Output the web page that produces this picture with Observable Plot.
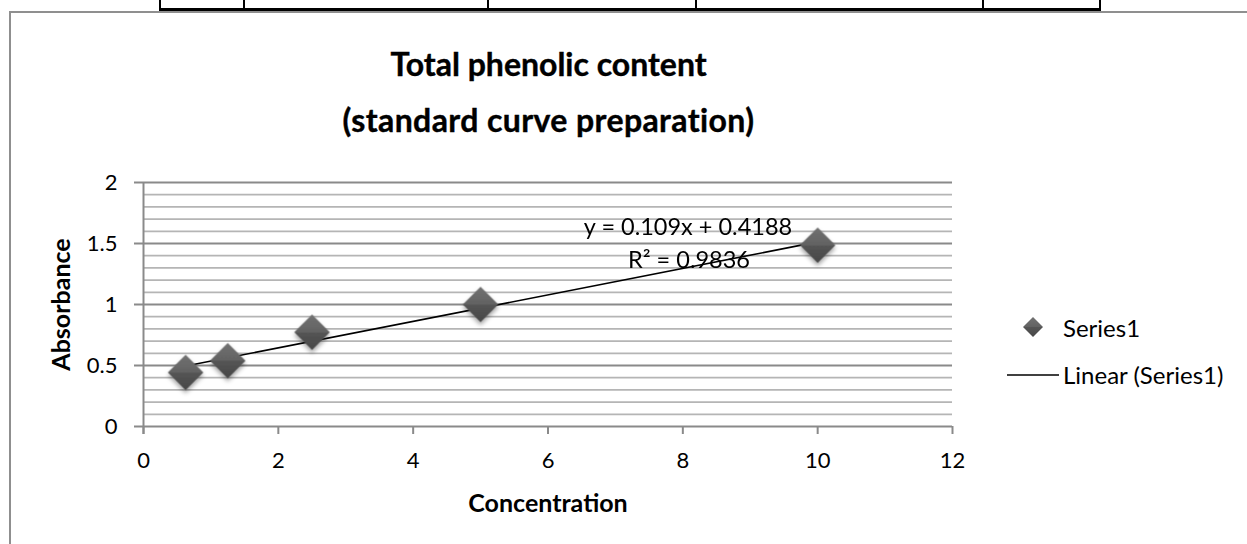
<!DOCTYPE html>
<html><head><meta charset="utf-8">
<script src="https://cdn.jsdelivr.net/npm/d3@7"></script>
<script src="https://cdn.jsdelivr.net/npm/@observablehq/plot@0.6"></script>
<style>
body{margin:0;background:#fff;font-family:Lato,"Open Sans",sans-serif;}
#wrap{position:relative;width:1247px;height:544px;overflow:hidden;background:#fff}
.frame{position:absolute;left:9px;top:11px;width:1300px;height:600px;border-left:2px solid #8f8f8f;border-top:2px solid #8f8f8f;box-sizing:border-box}
.tbl{position:absolute;left:159px;top:0;width:942px;height:8px;border-bottom:3px solid #000}
.vl{position:absolute;top:0;width:2px;height:10px;background:#000}
.title{position:absolute;left:0;width:1097px;text-align:center;font-weight:bold;font-size:32px;line-height:38px;color:#000;white-space:nowrap;-webkit-text-stroke:0.4px #000}
.leg{position:absolute;font-size:24px;line-height:28px;color:#000;white-space:nowrap}
#chart{position:absolute;left:0;top:0}
</style></head><body>
<div id="wrap">
  <div class="tbl"></div>
  <div class="vl" style="left:159px"></div>
  <div class="vl" style="left:243px"></div>
  <div class="vl" style="left:487px"></div>
  <div class="vl" style="left:695px"></div>
  <div class="vl" style="left:982px"></div>
  <div class="vl" style="left:1099px"></div>
  <div class="frame"></div>
  <div id="chart"></div>
  <div id="t1" class="title" style="top:45px"></div>
  <div id="t2" class="title" style="top:101px;letter-spacing:0.4px"></div>
  <div class="leg" style="left:1022px;top:314px"><svg width="24" height="28" style="vertical-align:top"><path d="M11,3 L21,13 L11,23 L1,13 Z" fill="url(#legFill)"/><defs><linearGradient id="legFill" x1="0" y1="0" x2="0" y2="1"><stop offset="0" stop-color="#727272"/><stop offset="0.5" stop-color="#626262"/><stop offset="0.5" stop-color="#555"/><stop offset="1" stop-color="#474747"/></linearGradient></defs></svg><span id="l1" style="position:absolute;left:41px;top:0"></span></div>
  <div class="leg" style="left:1007px;top:361px"><svg width="52" height="28" style="vertical-align:top"><line x1="0" y1="14" x2="52" y2="14" stroke="#000" stroke-width="1.5"/></svg><span id="l2" style="position:absolute;left:56px;top:0"></span></div>
</div>
<script>
// ---- data ----
const titleLines = ["Total phenolic content", "(standard curve preparation)"];
const concentration = [0.625, 1.25, 2.5, 5, 10];
const absorbance = [0.443, 0.539, 0.773, 1.0, 1.486];
const xTicks = [0, 2, 4, 6, 8, 10, 12];
const yTicks = [0, 0.5, 1, 1.5, 2];
const yMinorTicks = [0.1, 0.2, 0.3, 0.4, 0.6, 0.7, 0.8, 0.9, 1.1, 1.2, 1.3, 1.4, 1.6, 1.7, 1.8, 1.9];
const equationLines = ["y = 0.109x + 0.4188", "R² = 0.9836"];
const xLabel = "Concentration";
const yLabel = "Absorbance";
const seriesName = "Series1";
const trendName = "Linear (Series1)";

document.getElementById("t1").textContent = titleLines[0];
document.getElementById("t2").textContent = titleLines[1];
document.getElementById("l1").textContent = seriesName;
document.getElementById("l2").textContent = trendName;

const data = concentration.map((x, i) => ({x, y: absorbance[i]}));

const chart = Plot.plot({
  width: 1247, height: 544,
  marginLeft: 143, marginRight: 295, marginTop: 182, marginBottom: 118,
  x: {domain: [0, 12], ticks: xTicks},
  y: {domain: [0, 2], ticks: yTicks},
  style: {fontFamily: "Lato, 'Open Sans', sans-serif", fontSize: "22px", color: "#000", background: "transparent", overflow: "visible"},
  marks: [
    Plot.ruleY(yMinorTicks, {stroke: "#b5b5b5", strokeWidth: 1.8}),
    Plot.ruleY(yTicks, {stroke: "#8a8a8a", strokeWidth: 2, insetLeft: -9}),
    Plot.ruleX([0], {stroke: "#8a8a8a", strokeWidth: 2, insetBottom: -8}),
    Plot.axisX({ticks: xTicks, tickSize: 8, tickPadding: 18, stroke: "#8a8a8a", strokeWidth: 2, label: null, fontSize: 22, tickFormat: d => `${d}`}),
    Plot.axisY({ticks: yTicks, tickSize: 0, tickPadding: 26, label: null, fontSize: 22, tickFormat: d => `${d}`}),
    Plot.linearRegressionY(data, {x: "x", y: "y", ci: 0, stroke: "#000", strokeWidth: 1.6}),
    Plot.dot(data, {x: "x", y: "y", symbol: "diamond2", r: 16, fill: "url(#diamondFill)", stroke: "none"}),
    Plot.text([equationLines[0]], {frameAnchor: "top", dx: 140, dy: 45, lineAnchor: "middle", fontSize: 23.5}),
    Plot.text([equationLines[1]], {frameAnchor: "top", dx: 141, dy: 78, lineAnchor: "middle", fontSize: 23.5}),
    Plot.text([yLabel], {frameAnchor: "left", rotate: -90, dx: -82, textAnchor: "middle", lineAnchor: "middle", fontWeight: "bold", fontSize: 25}),
    Plot.text([xLabel], {frameAnchor: "bottom", dy: 77, lineAnchor: "middle", fontWeight: "bold", fontSize: 25})
  ]
});

const defs = d3.select(chart).insert("defs", ":first-child");
const g = defs.append("linearGradient").attr("id", "diamondFill").attr("x1", 0).attr("y1", 0).attr("x2", 0).attr("y2", 1);
g.append("stop").attr("offset", 0).attr("stop-color", "#727272");
g.append("stop").attr("offset", 0.5).attr("stop-color", "#626262");
g.append("stop").attr("offset", 0.5).attr("stop-color", "#555555");
g.append("stop").attr("offset", 1).attr("stop-color", "#474747");
const f = defs.append("filter").attr("id", "shadow").attr("x", "-50%").attr("y", "-50%").attr("width", "200%").attr("height", "200%");
f.append("feDropShadow").attr("dx", 0).attr("dy", 3).attr("stdDeviation", 2).attr("flood-color", "#000").attr("flood-opacity", 0.35);
d3.select(chart).selectAll("[fill='url(#diamondFill)']").attr("filter", "url(#shadow)");

document.getElementById("chart").appendChild(chart);
</script>
</body></html>
